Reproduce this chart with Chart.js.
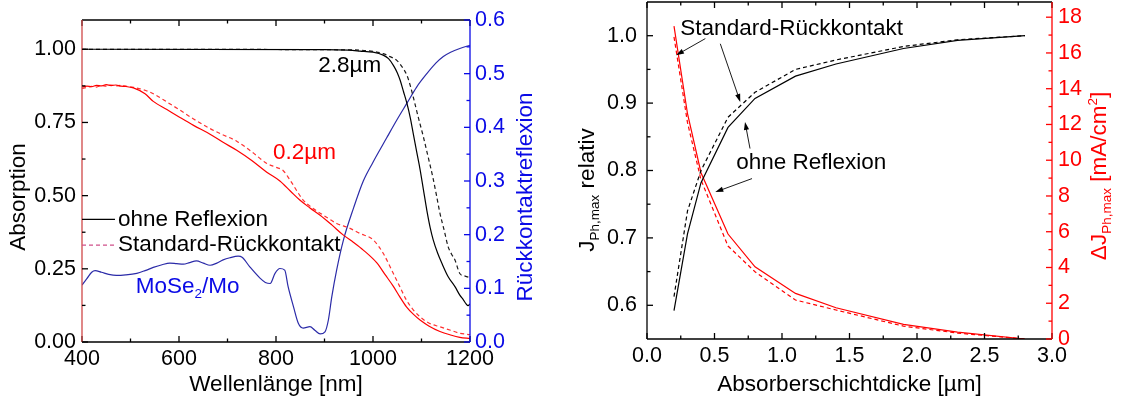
<!DOCTYPE html>
<html>
<head>
<meta charset="utf-8">
<title>Absorption und Photostrom</title>
<script src="https://cdn.jsdelivr.net/npm/chart.js@4.4.1/dist/chart.umd.min.js"></script>
<style>
  html, body { margin: 0; padding: 0; background: #fff; }
  #wrap { position: relative; width: 1125px; height: 400px; }
  .panel { position: absolute; top: 0; height: 400px; }
  #left { left: 0; width: 560px; }
  #right { left: 560px; width: 565px; }
</style>
</head>
<body>
<div id="wrap">
  <div class="panel" id="left"><canvas id="absChart"></canvas></div>
  <div class="panel" id="right"><canvas id="jphChart"></canvas></div>
</div>
<script>
// ---- linkes Diagramm: Absorption / Rückkontaktreflexion über Wellenlänge ----
const wlTicks = [400, 600, 800, 1000, 1200];
const absTicks = [0, 0.25, 0.5, 0.75, 1.0];
const reflTicks = [0, 0.1, 0.2, 0.3, 0.4, 0.5, 0.6];

// 2.8 µm, ohne Reflexion (schwarz, durchgezogen)
const wlOhne28 = [400, 900, 950, 973, 1000, 1021, 1032, 1042, 1050, 1056, 1063, 1070, 1077, 1083, 1090, 1097, 1104, 1111, 1118, 1124, 1133, 1142, 1155, 1169, 1179, 1186, 1192, 1196, 1200];
const absOhne28 = [1.0, 0.999, 0.997, 0.994, 0.99, 0.98, 0.968, 0.945, 0.92, 0.894, 0.855, 0.815, 0.765, 0.712, 0.65, 0.59, 0.52, 0.45, 0.39, 0.35, 0.305, 0.269, 0.223, 0.189, 0.16, 0.145, 0.13, 0.124, 0.13];
// 2.8 µm, Standard-Rückkontakt (schwarz, gestrichelt)
const wlStd28 = [400, 950, 1000, 1021, 1035, 1049, 1060, 1070, 1077, 1083, 1093, 1104, 1114, 1124, 1131, 1138, 1147, 1155, 1162, 1169, 1179, 1190, 1200];
const absStd28 = [1.0, 0.998, 0.993, 0.985, 0.975, 0.962, 0.94, 0.911, 0.875, 0.837, 0.77, 0.70, 0.63, 0.558, 0.50, 0.44, 0.38, 0.325, 0.30, 0.28, 0.234, 0.225, 0.22];
// 0.2 µm, ohne Reflexion (rot, durchgezogen)
const wlOhne02 = [400, 410, 420, 430, 440, 450, 460, 470, 480, 490, 506, 530, 547, 575, 602, 630, 664, 690, 719, 750, 781, 808, 830, 849, 870, 891, 915, 939, 960, 980, 1008, 1025, 1042, 1055, 1069, 1083, 1097, 1115, 1138, 1160, 1179, 1200];
const absOhne02 = [0.871, 0.874, 0.872, 0.877, 0.875, 0.879, 0.876, 0.878, 0.874, 0.873, 0.868, 0.848, 0.822, 0.794, 0.767, 0.74, 0.71, 0.683, 0.655, 0.62, 0.58, 0.55, 0.515, 0.485, 0.458, 0.433, 0.40, 0.365, 0.34, 0.314, 0.27, 0.23, 0.19, 0.155, 0.12, 0.095, 0.075, 0.055, 0.036, 0.024, 0.016, 0.012];
// 0.2 µm, Standard-Rückkontakt (rot, gestrichelt)
const wlStd02 = [400, 410, 420, 430, 440, 450, 460, 470, 480, 490, 506, 530, 547, 575, 602, 630, 664, 690, 719, 750, 781, 800, 815, 829, 856, 875, 891, 910, 925, 950, 973, 1001, 1021, 1042, 1055, 1069, 1083, 1097, 1115, 1138, 1160, 1179, 1200];
const absStd02 = [0.866, 0.870, 0.873, 0.871, 0.876, 0.874, 0.878, 0.875, 0.877, 0.874, 0.870, 0.860, 0.848, 0.820, 0.792, 0.762, 0.729, 0.708, 0.686, 0.65, 0.61, 0.597, 0.585, 0.553, 0.485, 0.458, 0.44, 0.42, 0.405, 0.39, 0.371, 0.348, 0.303, 0.234, 0.19, 0.143, 0.11, 0.086, 0.065, 0.052, 0.04, 0.03, 0.025];
// Reflexion MoSe2/Mo (blau, rechte Achse)
const wlMoSe2 = [400, 410, 420, 427, 440, 455, 471, 490, 513, 530, 547, 565, 581, 595, 609, 622, 636, 650, 664, 678, 691, 705, 722, 730, 746, 767, 778, 788, 798, 808, 818, 825, 836, 846, 856, 870, 880, 891, 901, 908, 915, 925, 939, 960, 980, 1000, 1028, 1050, 1070, 1090, 1111, 1130, 1145, 1160, 1179, 1200];
const reflMoSe2 = [0.106, 0.118, 0.13, 0.133, 0.13, 0.126, 0.124, 0.125, 0.128, 0.133, 0.139, 0.144, 0.147, 0.146, 0.145, 0.148, 0.151, 0.147, 0.143, 0.147, 0.153, 0.157, 0.160, 0.158, 0.140, 0.119, 0.111, 0.109, 0.128, 0.137, 0.134, 0.103, 0.066, 0.035, 0.026, 0.0285, 0.022, 0.015, 0.019, 0.041, 0.084, 0.134, 0.19, 0.25, 0.30, 0.335, 0.38, 0.415, 0.445, 0.475, 0.50, 0.52, 0.532, 0.54, 0.547, 0.553];

// ---- rechtes Diagramm: J_Ph,max über Absorberschichtdicke ----
const dickeTicks = [0, 0.5, 1.0, 1.5, 2.0, 2.5, 3.0];
const jTicks = [0.6, 0.7, 0.8, 0.9, 1.0];
const dJTicks = [0, 2, 4, 6, 8, 10, 12, 14, 16, 18];
const dicke = [0.2, 0.3, 0.4, 0.6, 0.8, 1.1, 1.4, 1.9, 2.3, 2.8];
const jRelOhne = [0.592, 0.706, 0.782, 0.864, 0.907, 0.940, 0.958, 0.981, 0.993, 1.0];
const jRelStd = [0.613, 0.740, 0.800, 0.879, 0.916, 0.950, 0.964, 0.984, 0.994, 1.0];
const dJOhne = [17.5, 12.6, 9.3, 5.87, 4.04, 2.55, 1.75, 0.82, 0.38, 0.0];
const dJStd = [16.9, 12.1, 8.9, 5.2, 3.76, 2.18, 1.62, 0.72, 0.33, 0.0];

const FONT = '"Liberation Sans", Arial, Helvetica, sans-serif';
const BLUE = '#0a0ae6';
const RED = '#ff0000';
Chart.defaults.font.family = FONT;
Chart.defaults.color = '#000';

function pts(xs, ys) {
  return xs.map((x, i) => ({x: x, y: ys[i]}));
}

function line(xs, ys, color, dash, axisId, smooth) {
  return {
    data: pts(xs, ys),
    borderColor: color,
    borderWidth: 1.2,
    borderDash: dash || [],
    pointRadius: 0,
    fill: false,
    yAxisID: axisId,
    tension: 0,
    cubicInterpolationMode: smooth ? 'monotone' : 'default'
  };
}

// Achse mit festen Ticks und fester Breite/Höhe (Origin-Look)
function axis(o) {
  return {
    type: 'linear',
    position: o.pos,
    min: o.min,
    max: o.max,
    grid: {display: false, drawTicks: false},
    border: {display: false},
    ticks: {
      font: {size: 21.5},
      color: o.color || '#000',
      padding: o.pad,
      maxRotation: 0,
      autoSkip: false,
      callback: v => Number(v).toFixed(o.dec)
    },
    afterBuildTicks: s => { s.ticks = o.ticks.map(v => ({value: v})); },
    afterFit: s => {
      if (o.pos === 'bottom') s.height = o.size; else s.width = o.size;
      s.paddingLeft = s.paddingRight = s.paddingTop = s.paddingBottom = 0;
    }
  };
}

function minors(major, s) {
  const step = major[1] - major[0];
  const out = [];
  for (let v = major[0] - step / 2; v <= s.max + 1e-9; v += step) {
    if (v > s.min + 1e-9 && v < s.max - 1e-9) out.push(v);
  }
  return out;
}

function drawRich(ctx, parts, x, y, size, color, rot, align) {
  const small = size * 0.6;
  ctx.save();
  ctx.translate(x, y);
  if (rot) ctx.rotate(rot * Math.PI / 180);
  ctx.fillStyle = color;
  ctx.textBaseline = 'middle';
  ctx.textAlign = 'left';
  let w = 0;
  parts.forEach(p => {
    const isStr = typeof p === 'string';
    ctx.font = (isStr ? size : small) + 'px ' + FONT;
    w += ctx.measureText(isStr ? p : (p.sub || p.sup)).width;
  });
  let cx = align === 'center' ? -w / 2 : 0;
  parts.forEach(p => {
    const isStr = typeof p === 'string';
    const t = isStr ? p : (p.sub || p.sup);
    ctx.font = (isStr ? size : small) + 'px ' + FONT;
    const dy = isStr ? 0 : (p.sub ? size * 0.33 : -size * 0.3);
    ctx.fillText(t, cx, dy);
    cx += ctx.measureText(t).width;
  });
  ctx.restore();
}

function arrow(ctx, x0, y0, x1, y1) {
  const ang = Math.atan2(y1 - y0, x1 - x0), L = 8, W = 2.6;
  ctx.beginPath();
  ctx.moveTo(x0, y0);
  ctx.lineTo(x1 - 4 * Math.cos(ang), y1 - 4 * Math.sin(ang));
  ctx.stroke();
  ctx.beginPath();
  ctx.moveTo(x1, y1);
  ctx.lineTo(x1 - L * Math.cos(ang) + W * Math.sin(ang), y1 - L * Math.sin(ang) - W * Math.cos(ang));
  ctx.lineTo(x1 - L * Math.cos(ang) - W * Math.sin(ang), y1 - L * Math.sin(ang) + W * Math.cos(ang));
  ctx.closePath();
  ctx.fill();
}

// Rahmen, Ticks nach innen, Legende, Beschriftungen
function decor(cfg) {
  return {
    id: 'decor',
    afterDatasetsDraw(chart) {
      const {ctx, chartArea: a, scales} = chart;
      ctx.save();
      cfg.edges.forEach(e => {
        const s = scales[e.scale];
        ctx.lineWidth = 1.3;
        ctx.strokeStyle = e.color;
        ctx.beginPath();
        if (e.side === 'left') { ctx.moveTo(a.left, a.top); ctx.lineTo(a.left, a.bottom); }
        if (e.side === 'right') { ctx.moveTo(a.right, a.top); ctx.lineTo(a.right, a.bottom); }
        if (e.side === 'top') { ctx.moveTo(a.left, a.top); ctx.lineTo(a.right, a.top); }
        if (e.side === 'bottom') { ctx.moveTo(a.left, a.bottom); ctx.lineTo(a.right, a.bottom); }
        ctx.stroke();
        ctx.strokeStyle = e.tick || e.color;
        const mark = (v, len) => {
          const p = s.getPixelForValue(v);
          ctx.beginPath();
          if (e.side === 'left') { ctx.moveTo(a.left, p); ctx.lineTo(a.left + len, p); }
          if (e.side === 'right') { ctx.moveTo(a.right, p); ctx.lineTo(a.right - len, p); }
          if (e.side === 'top') { ctx.moveTo(p, a.top); ctx.lineTo(p, a.top + len); }
          if (e.side === 'bottom') { ctx.moveTo(p, a.bottom); ctx.lineTo(p, a.bottom - len); }
          ctx.stroke();
        };
        e.major.forEach(v => mark(v, 6));
        minors(e.major, s).forEach(v => mark(v, 3.5));
      });

      (cfg.samples || []).forEach(l => {
        const sy = scales[l.axis];
        ctx.strokeStyle = l.color;
        ctx.lineWidth = 1.2;
        ctx.setLineDash(l.dash || []);
        ctx.beginPath();
        ctx.moveTo(scales.x.getPixelForValue(l.x0), sy.getPixelForValue(l.y));
        ctx.lineTo(scales.x.getPixelForValue(l.x1), sy.getPixelForValue(l.y));
        ctx.stroke();
        ctx.setLineDash([]);
      });

      ctx.strokeStyle = '#000';
      ctx.fillStyle = '#000';
      ctx.lineWidth = 0.9;
      (cfg.arrows || []).forEach(r => {
        const sy = scales[r.axis];
        arrow(ctx, scales.x.getPixelForValue(r.x0), sy.getPixelForValue(r.y0),
          scales.x.getPixelForValue(r.x1), sy.getPixelForValue(r.y1));
      });

      (cfg.notes || []).forEach(n => {
        drawRich(ctx, n.parts, scales.x.getPixelForValue(n.x), scales[n.axis].getPixelForValue(n.y),
          22.5, n.color, 0, 'left');
      });

      (cfg.titles || []).forEach(t => {
        const x = t.x === 'center' ? (a.left + a.right) / 2 : t.x;
        drawRich(ctx, t.parts, x, t.y, 22.5, t.color, t.rot || 0, 'center');
      });
      ctx.restore();
    }
  };
}

const baseOpts = {
  responsive: true,
  maintainAspectRatio: false,
  animation: false,
  plugins: {legend: {display: false}, tooltip: {enabled: false}}
};

new Chart(document.getElementById('absChart'), {
  type: 'line',
  data: {
    datasets: [
      line(wlOhne28, absOhne28, '#000', null, 'y', true),
      line(wlStd28, absStd28, '#1a1a1a', [4, 3], 'y', true),
      line(wlOhne02, absOhne02, RED, null, 'y', true),
      line(wlStd02, absStd02, '#ff3030', [4, 3], 'y', true),
      line(wlMoSe2, reflMoSe2, '#2b2ba8', null, 'y2', true)
    ]
  },
  options: Object.assign({}, baseOpts, {
    layout: {padding: {top: 20, left: 0, right: 0, bottom: 0}},
    scales: {
      x: axis({pos: 'bottom', min: 400, max: 1200, ticks: wlTicks, dec: 0, pad: 4, size: 58}),
      y: axis({pos: 'left', min: 0, max: 1.1, ticks: absTicks, dec: 2, pad: 6, size: 82}),
      y2: axis({pos: 'right', min: 0, max: 0.6, ticks: reflTicks, dec: 1, pad: 5, size: 90, color: BLUE})
    }
  }),
  plugins: [decor({
    edges: [
      {side: 'bottom', scale: 'x', color: '#000', major: wlTicks},
      {side: 'top', scale: 'x', color: '#000', major: wlTicks},
      {side: 'left', scale: 'y', color: '#d04848', tick: '#000', major: absTicks},
      {side: 'right', scale: 'y2', color: BLUE, major: reflTicks}
    ],
    samples: [
      {x0: 400, x1: 468, y: 0.419, axis: 'y', color: '#000'},
      {x0: 400, x1: 468, y: 0.331, axis: 'y', color: '#d0508a', dash: [4, 3]}
    ],
    notes: [
      {parts: ['ohne Reflexion'], x: 474, y: 0.419, axis: 'y', color: '#000'},
      {parts: ['Standard-Rückkontakt'], x: 474, y: 0.331, axis: 'y', color: '#000'},
      {parts: ['2.8µm'], x: 887, y: 0.942, axis: 'y', color: '#000'},
      {parts: ['0.2µm'], x: 794, y: 0.646, axis: 'y', color: RED},
      {parts: ['MoSe', {sub: '2'}, '/Mo'], x: 511, y: 0.19, axis: 'y', color: BLUE}
    ],
    titles: [
      {parts: ['Absorption'], x: 19, y: 197, rot: -90, color: '#000'},
      {parts: ['Rückkontaktreflexion'], x: 526, y: 197, rot: -90, color: BLUE},
      {parts: ['Wellenlänge [nm]'], x: 'center', y: 385, color: '#000'}
    ]
  })]
});

new Chart(document.getElementById('jphChart'), {
  type: 'line',
  data: {
    datasets: [
      line(dicke, jRelOhne, '#000', null, 'y', false),
      line(dicke, jRelStd, '#000', [4, 3], 'y', false),
      line(dicke, dJOhne, RED, null, 'y2', false),
      line(dicke, dJStd, RED, [4, 3], 'y2', false)
    ]
  },
  options: Object.assign({}, baseOpts, {
    layout: {padding: {top: 2, left: 0, right: 0, bottom: 0}},
    scales: {
      x: axis({pos: 'bottom', min: 0, max: 3, ticks: dickeTicks, dec: 1, pad: 4, size: 61}),
      y: axis({pos: 'left', min: 0.55, max: 1.05, ticks: jTicks, dec: 1, pad: 10, size: 87}),
      y2: axis({pos: 'right', min: 0, max: 18.85, ticks: dJTicks, dec: 0, pad: 6, size: 73, color: RED})
    }
  }),
  plugins: [decor({
    edges: [
      {side: 'bottom', scale: 'x', color: '#000', major: dickeTicks},
      {side: 'top', scale: 'x', color: '#000', major: dickeTicks},
      {side: 'left', scale: 'y', color: '#000', major: jTicks},
      {side: 'right', scale: 'y2', color: RED, major: dJTicks}
    ],
    arrows: [
      {x0: 0.432, y0: 0.9957, x1: 0.215, y1: 0.971, axis: 'y'},
      {x0: 0.543, y0: 0.988, x1: 0.691, y1: 0.9017, axis: 'y'},
      {x0: 0.763, y0: 0.8326, x1: 0.726, y1: 0.872, axis: 'y'},
      {x0: 0.778, y0: 0.788, x1: 0.506, y1: 0.768, axis: 'y'}
    ],
    notes: [
      {parts: ['Standard-Rückkontakt'], x: 0.247, y: 1.0108, axis: 'y', color: '#000'},
      {parts: ['ohne Reflexion'], x: 0.661, y: 0.8113, axis: 'y', color: '#000'}
    ],
    titles: [
      {parts: ['J', {sub: 'Ph,max'}, ' relativ'], x: 28, y: 190, rot: -90, color: '#000'},
      {parts: ['ΔJ', {sub: 'Ph,max'}, ' [mA/cm', {sup: '2'}, ']'], x: 540, y: 176, rot: -90, color: RED},
      {parts: ['Absorberschichtdicke [µm]'], x: 'center', y: 385, color: '#000'}
    ]
  })]
});
</script>
</body>
</html>
